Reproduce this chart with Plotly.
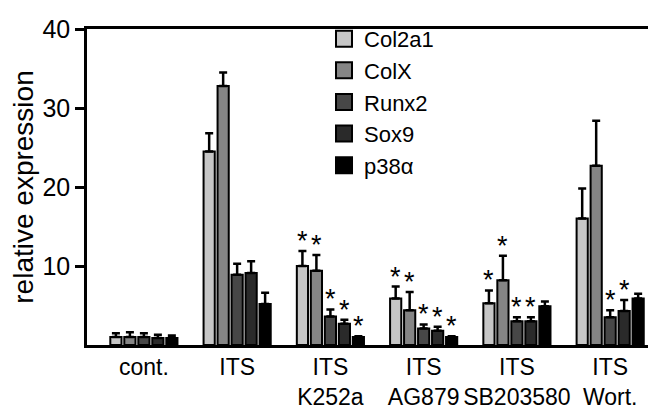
import plotly.graph_objects as go

groups = ["cont.", "ITS", "ITS<br>K252a", "ITS<br>AG879", "ITS<br>SB203580", "ITS<br>Wort."]
genes = ["Col2a1", "ColX", "Runx2", "Sox9", "p38α"]

col2a1 = [1.0, 24.5, 10.0, 5.9, 5.3, 16.0]
colx = [1.0, 32.8, 9.4, 4.4, 8.2, 22.7]
runx2 = [1.0, 8.9, 3.6, 2.1, 3.0, 3.5]
sox9 = [0.9, 9.1, 2.7, 1.8, 3.0, 4.3]
p38a = [0.9, 5.2, 1.0, 1.0, 4.9, 5.9]

col2a1_err = [0.5, 2.3, 1.9, 1.5, 1.6, 3.8]
colx_err = [0.6, 1.7, 2.0, 2.3, 3.1, 5.7]
runx2_err = [0.5, 1.4, 0.9, 0.5, 0.5, 0.9]
sox9_err = [0.4, 1.5, 0.5, 0.5, 0.5, 1.4]
p38a_err = [0.3, 1.4, 0.1, 0.1, 0.6, 0.6]

# significance marks (*) per gene and group
col2a1_sig = [0, 0, 1, 1, 1, 0]
colx_sig = [0, 0, 1, 1, 1, 0]
runx2_sig = [0, 0, 1, 1, 1, 1]
sox9_sig = [0, 0, 1, 1, 1, 1]
p38a_sig = [0, 0, 1, 1, 0, 0]

colors = ["#c6c6c6", "#858585", "#474747", "#2a2a2a", "#000000"]

values = [col2a1, colx, runx2, sox9, p38a]
errors = [col2a1_err, colx_err, runx2_err, sox9_err, p38a_err]
sigs = [col2a1_sig, colx_sig, runx2_sig, sox9_sig, p38a_sig]

FONT = "Liberation Sans, Arial, sans-serif"
bargap = 0.25
n = len(genes)
slot = (1 - bargap) / n
xs = list(range(len(groups)))

fig = go.Figure()
for i, (g, v, e, c) in enumerate(zip(genes, values, errors, colors)):
    fig.add_trace(go.Bar(
        x=xs, y=v, name=g, showlegend=False,
        marker=dict(color=c, line=dict(color="black", width=2)),
        error_y=dict(type="data", array=e, arrayminus=[0] * len(e),
                     symmetric=False, color="black", thickness=2.5, width=4),
    ))
    # legend-only entry with a bigger square
    fig.add_trace(go.Scatter(
        x=[None], y=[None], mode="markers", name=g,
        marker=dict(symbol="square", size=16, color=c,
                    line=dict(color="black", width=2)),
    ))

for i in range(n):
    off = (i - (n - 1) / 2) * slot
    for j in xs:
        if sigs[i][j]:
            fig.add_annotation(
                x=j + off, y=values[i][j] + errors[i][j], text="*",
                showarrow=False, yanchor="bottom", yshift=-7,
                font=dict(family=FONT, size=27, color="black"),
            )

fig.update_layout(
    width=656, height=409,
    margin=dict(l=79, r=7, t=14, b=65),
    plot_bgcolor="white", paper_bgcolor="white",
    barmode="group", bargap=bargap, bargroupgap=0.2,
    font=dict(family=FONT, size=22, color="black"),
    legend=dict(x=0.418, y=1.035, xanchor="left", yanchor="top",
                font=dict(size=22), bgcolor="rgba(0,0,0,0)",
                itemwidth=30),
    xaxis=dict(
        tickmode="array", tickvals=xs, ticktext=groups,
        range=[-0.61, 5.47], showline=True, linecolor="black", linewidth=2.5,
        mirror=True, ticks="", showgrid=False, zeroline=False,
        tickfont=dict(size=23),
    ),
    yaxis=dict(
        range=[0, 40], tickvals=[10, 20, 30, 40], showline=True,
        linecolor="black", linewidth=2.5, mirror=True, ticks="outside",
        ticklen=9, tickwidth=2.5, tickcolor="black", showgrid=False,
        zeroline=False, tickfont=dict(size=25),
        title=dict(text="relative expression", font=dict(size=28), standoff=8),
    ),
)

fig.write_html("out.html")
